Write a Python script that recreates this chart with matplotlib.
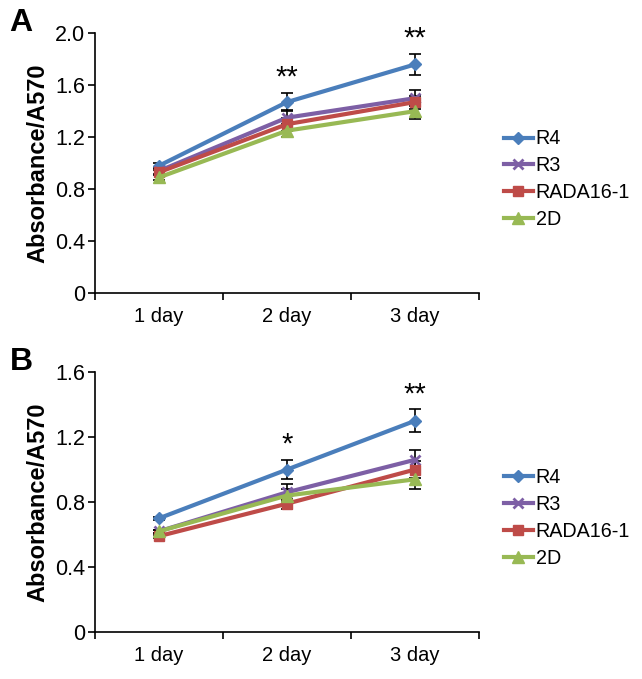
import matplotlib
matplotlib.use("Agg")
import matplotlib.pyplot as plt
import numpy as np

plt.rcParams['font.family'] = ['Liberation Sans', 'DejaVu Sans']

days = ["1 day", "2 day", "3 day"]
series = ["R4", "R3", "RADA16-1", "2D"]

# Panel A
a_R4 = [0.98, 1.47, 1.76]
a_R3 = [0.94, 1.35, 1.50]
a_RADA = [0.93, 1.30, 1.47]
a_2D = [0.89, 1.25, 1.40]
a_R4_err = [0.02, 0.07, 0.08]
a_R3_err = [0.02, 0.06, 0.06]
a_RADA_err = [0.02, 0.05, 0.05]
a_2D_err = [0.02, 0.05, 0.06]
a_sig = ["", "**", "**"]

# Panel B
b_R4 = [0.70, 1.00, 1.30]
b_R3 = [0.62, 0.86, 1.06]
b_RADA = [0.59, 0.79, 1.00]
b_2D = [0.62, 0.84, 0.94]
b_R4_err = [0.01, 0.06, 0.07]
b_R3_err = [0.01, 0.05, 0.06]
b_RADA_err = [0.01, 0.03, 0.05]
b_2D_err = [0.01, 0.04, 0.06]
b_sig = ["", "*", "**"]

colors = ["#4a7ebb", "#7d5fa5", "#be4b48", "#98b954"]
markers = ["D", "x", "s", "^"]
msizes = [6, 7, 7, 8]

fig = plt.figure(figsize=(6.42, 6.79), dpi=100)

def panel(rect, vals, errs, sig, ymax, yticks, letter, legend_y):
    ax = fig.add_axes(rect)
    x = np.arange(len(days))
    for v, e, c, m, ms, name in zip(vals, errs, colors, markers, msizes, series):
        ax.errorbar(x, v, yerr=e, fmt='none', ecolor='black', elinewidth=1.2,
                    capsize=4, capthick=1.2, zorder=2)
        ax.plot(x, v, color=c, marker=m, markersize=ms, lw=3,
                markeredgewidth=2 if m == 'x' else 1, markeredgecolor=c,
                label=name, zorder=3)
    r4 = vals[0]
    r4e = errs[0]
    for i, s in enumerate(sig):
        if s:
            ax.text(x[i], r4[i] + r4e[i] + ymax * 0.005, s, ha='center', va='bottom',
                    fontsize=21)
    ax.set_xlim(-0.5, 2.5)
    ax.set_ylim(0, ymax)
    ax.set_yticks(yticks)
    ax.set_yticklabels(["0" if t == 0 else f"{t:.1f}" for t in yticks], fontsize=15.5)
    ax.set_xticks([-0.5, 0.5, 1.5, 2.5])
    ax.set_xticklabels([])
    ax.set_xticks(x, minor=True)
    ax.set_xticklabels(days, minor=True, fontsize=14.5)
    ax.tick_params(axis='x', which='minor', length=0, pad=10)
    ax.tick_params(axis='x', which='major', length=5, width=1.2, direction='out')
    ax.tick_params(axis='y', length=5, width=1.2, direction='out', pad=2)
    for s in ['top', 'right']:
        ax.spines[s].set_visible(False)
    for s in ['left', 'bottom']:
        ax.spines[s].set_linewidth(1.2)
    ax.set_ylabel("Absorbance/A570", fontsize=17, fontweight='bold', labelpad=4)
    ax.legend(loc='upper left', bbox_to_anchor=(1.045, legend_y), frameon=False,
              fontsize=14.2, handlelength=1.45, handletextpad=0.15, labelspacing=0.4,
              borderaxespad=0)
    fig.text(0.015, rect[1] + rect[3] + 0.015, letter, fontsize=23, fontweight='bold',
             ha='left', va='center')
    return ax

panel([0.148, 0.5685, 0.598, 0.3825], [a_R4, a_R3, a_RADA, a_2D],
      [a_R4_err, a_R3_err, a_RADA_err, a_2D_err], a_sig, 2.0,
      [0, 0.4, 0.8, 1.2, 1.6, 2.0], "A", 0.66)
panel([0.148, 0.0692, 0.598, 0.3828], [b_R4, b_R3, b_RADA, b_2D],
      [b_R4_err, b_R3_err, b_RADA_err, b_2D_err], b_sig, 1.6,
      [0, 0.4, 0.8, 1.2, 1.6], "B", 0.66)

fig.savefig("out.png", dpi=100)
